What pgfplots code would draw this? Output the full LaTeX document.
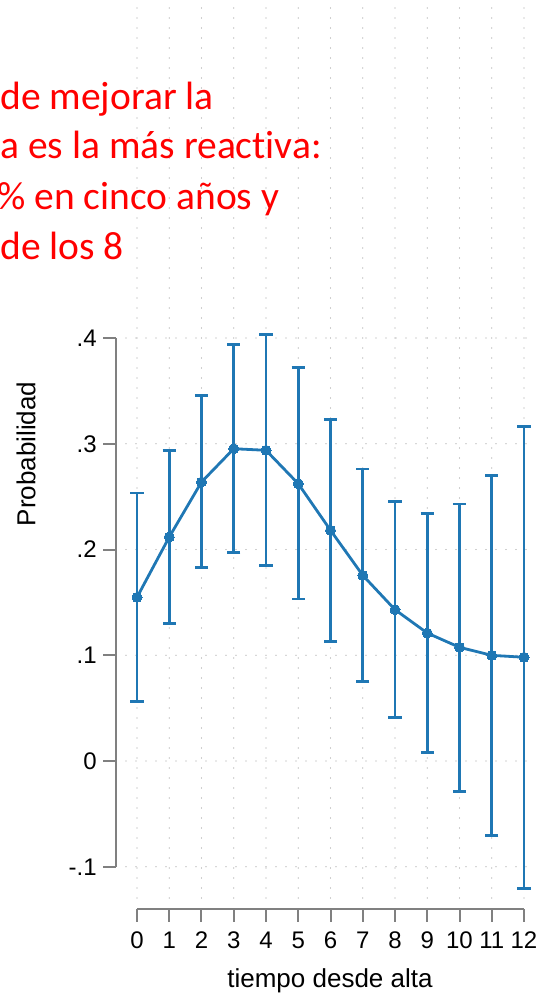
\documentclass[border=0pt]{standalone}
\usepackage{pgfplots}
\pgfplotsset{compat=1.18}
\usepackage{pgfplotstable}
\usepackage{fontspec}
\setmainfont{Liberation Sans}
\newfontfamily\calibri[Ligatures=NoCommon]{Carlito}
\definecolor{stblue}{HTML}{1F77B4}
\definecolor{axgrey}{HTML}{808080}
\definecolor{gridgrey}{HTML}{A0A0A0}

% predicted probability with 95% CI
\pgfplotstableread{
x  y      lo      hi
0  0.1548 0.0565  0.2534
1  0.2118 0.1302  0.2934
2  0.2638 0.1828  0.3454
3  0.2953 0.1974  0.3937
4  0.2938 0.1847  0.4031
5  0.2622 0.1532  0.3719
6  0.2182 0.1132  0.3227
7  0.1756 0.0754  0.2761
8  0.1431 0.0413  0.2452
9  0.1210 0.0079  0.2342
10 0.1075 -0.0290 0.2430
11 0.0999 -0.0706 0.2702
12 0.0981 -0.1208 0.3161
}\probs

\begin{document}
\begin{tikzpicture}
\useasboundingbox (0,0) rectangle (270.5pt,498pt);
\clip (0,0) rectangle (270.5pt,498pt);

% plot region: grid and data
\begin{axis}[
    at={(63pt,49pt)}, anchor=south west,
    scale only axis, width=204.5pt, height=446.5pt,
    xmin=-0.3411, xmax=12.3411,
    ymin=-0.12955, ymax=0.71489,
    xtick={0,...,12},
    ytick={-0.1,0,0.1,0.2,0.3,0.4},
    xticklabels={}, yticklabels={},
    grid=major,
    major grid style={gridgrey, line width=0.6pt, line cap=round, dash pattern=on 0pt off 5pt},
    axis line style={draw=none},
    major tick style={draw=none},
    clip=false,
]
\addplot[draw=none, mark=none, forget plot,
    error bars/.cd, y dir=both, y explicit,
    error bar style={stblue, line width=1.4pt},
    error mark options={stblue, line width=1.4pt, mark size=3.3pt, rotate=90}]
    table[x=x, y=y,
          y error plus expr=\thisrow{hi}-\thisrow{y},
          y error minus expr=\thisrow{y}-\thisrow{lo}] {\probs};
\addplot[stblue, line width=1.4pt, mark=*, mark size=2.5pt,
    mark options={fill=stblue, draw=stblue, line width=0pt}]
    table[x=x, y=y] {\probs};
\end{axis}

% y axis
\begin{axis}[
    at={(58pt,64.5pt)}, anchor=south west,
    scale only axis, width=10pt, height=264.5pt,
    xmin=0, xmax=1, ymin=-0.1, ymax=0.4,
    axis x line=none, axis y line*=left,
    ytick={-0.1,0,0.1,0.2,0.3,0.4},
    yticklabels={-.1,0,.1,.2,.3,.4},
    tick align=outside, major tick length=6.5pt,
    axis line style={-, axgrey, line width=1pt},
    major tick style={axgrey, line width=1pt},
    yticklabel style={font=\fontsize{12}{14}\selectfont, inner sep=0pt, xshift=-3pt},
    /pgf/number format/assume math mode=true,
]
\end{axis}

% x axis
\begin{axis}[
    at={(68.5pt,43.5pt)}, anchor=south west,
    scale only axis, width=193.5pt, height=10pt,
    xmin=0, xmax=12, ymin=0, ymax=1,
    axis y line=none, axis x line*=bottom,
    xtick={0,...,12},
    tick align=outside, major tick length=6.25pt,
    axis line style={-, axgrey, line width=1pt},
    major tick style={axgrey, line width=1pt},
    xticklabel style={font=\fontsize{12}{14}\selectfont, inner sep=0pt, yshift=-5pt},
    /pgf/number format/assume math mode=true,
]
\end{axis}

\node[rotate=90, font=\fontsize{13}{15}\selectfont] at (13pt,271pt) {Probabilidad};
\node[font=\fontsize{13}{15}\selectfont] at (165pt,7.5pt) {tiempo desde alta};

\begin{scope}[every node/.style={anchor=base west, inner sep=0pt, text=red,
    font=\calibri\fontsize{19.75}{24}\selectfont}]
\node at (0pt,443pt) {de mejorar la};
\node at (0pt,418.5pt) {a es la más reactiva:};
\node at (-1.5pt,393pt) {\% en cinco años y};
\node at (0pt,368pt) {de los 8};
\end{scope}
\end{tikzpicture}
\end{document}
